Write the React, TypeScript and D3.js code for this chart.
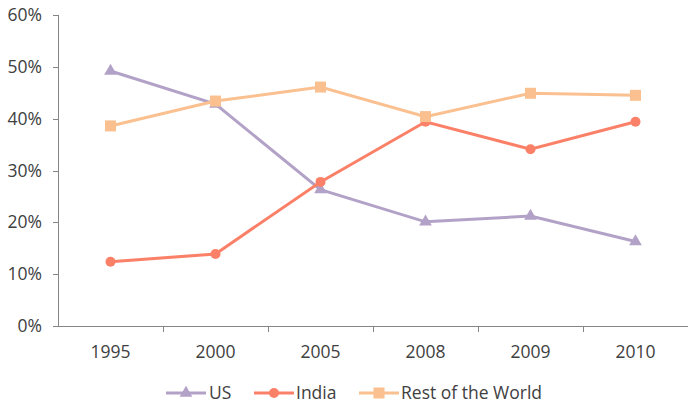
import React from "react";
import * as d3 from "d3";

const categories = ["1995", "2000", "2005", "2008", "2009", "2010"];
const usValues = [49.2, 42.8, 26.3, 20.1, 21.2, 16.3];
const indiaValues = [12.4, 13.9, 27.8, 39.4, 34.1, 39.4];
const rowValues = [38.6, 43.4, 46.1, 40.4, 44.9, 44.5];
const yTicks = [0, 10, 20, 30, 40, 50, 60];

const W = 688;
const H = 408;
const margin = { left: 58, right: 0, top: 15, bottom: 82 };
const FONT = "Open Sans, Liberation Sans, sans-serif";
const FS = 17.5;

const series = [
  { name: "US", values: usValues, color: "#b3a2c7", marker: "triangle" },
  { name: "India", values: indiaValues, color: "#fb8068", marker: "circle" },
  { name: "Rest of the World", values: rowValues, color: "#fac090", marker: "square" },
];

function Marker({ type, x, y, color }: { type: string; x: number; y: number; color: string }) {
  if (type === "circle") return <circle cx={x} cy={y} r={5} fill={color} />;
  if (type === "square") return <rect x={x - 5.5} y={y - 5.5} width={11} height={11} fill={color} />;
  const p = d3.symbol(d3.symbolTriangle, 70)();
  return <path d={p || ""} transform={`translate(${x},${y})`} fill={color} />;
}

export default function App() {
  const x = d3.scaleBand<string>().domain(categories).range([margin.left, W - margin.right]);
  const y = d3.scaleLinear().domain([0, 60]).range([H - margin.bottom - 0, margin.top]);
  const y0 = y(0);
  const line = d3
    .line<number>()
    .x((_, i) => (x(categories[i]) as number) + x.bandwidth() / 2)
    .y((d) => y(d));

  const legendItems = [
    { ...series[0], lx: 166, tx: 209 },
    { ...series[1], lx: 254, tx: 296 },
    { ...series[2], lx: 359, tx: 401 },
  ];
  const legendY = 393;

  return (
    <svg width={W} height={H} style={{ position: "absolute", left: 0, top: 0, background: "#fff" }}>
      {/* y axis */}
      <line x1={margin.left + 0.5} x2={margin.left + 0.5} y1={y(60)} y2={y0} stroke="#868686" strokeWidth={1} />
      {yTicks.map((t) => (
        <g key={t}>
          <line x1={margin.left - 5} x2={margin.left} y1={Math.round(y(t)) + 0.5} y2={Math.round(y(t)) + 0.5} stroke="#868686" />
          <text x={42} y={y(t)} dy="0.35em" textAnchor="end" fontFamily={FONT} fontSize={FS} fill="#404040">
            {t}%
          </text>
        </g>
      ))}
      {/* x axis */}
      <line x1={margin.left} x2={W} y1={Math.round(y0) + 0.5} y2={Math.round(y0) + 0.5} stroke="#868686" />
      {categories.map((c, i) => (
        <g key={c}>
          {i > 0 && (
            <line
              x1={Math.round(x(c) as number) + 0.5}
              x2={Math.round(x(c) as number) + 0.5}
              y1={y0}
              y2={y0 + 6}
              stroke="#868686"
            />
          )}
          <text
            x={(x(c) as number) + x.bandwidth() / 2}
            y={352}
            dy="0.35em"
            textAnchor="middle"
            fontFamily={FONT}
            fontSize={FS}
            fill="#404040"
          >
            {c}
          </text>
        </g>
      ))}
      {/* series */}
      {series.map((s) => (
        <g key={s.name}>
          <path d={line(s.values) || ""} fill="none" stroke={s.color} strokeWidth={3} />
          {s.values.map((v, i) => (
            <Marker
              key={i}
              type={s.marker}
              x={(x(categories[i]) as number) + x.bandwidth() / 2}
              y={y(v)}
              color={s.color}
            />
          ))}
        </g>
      ))}
      {/* legend */}
      {legendItems.map((s) => (
        <g key={s.name}>
          <line x1={s.lx} x2={s.lx + 40} y1={legendY} y2={legendY} stroke={s.color} strokeWidth={3} />
          <Marker type={s.marker} x={s.lx + 20} y={legendY} color={s.color} />
          <text x={s.tx} y={legendY} dy="0.35em" fontFamily={FONT} fontSize={FS} fill="#404040">
            {s.name}
          </text>
        </g>
      ))}
    </svg>
  );
}
